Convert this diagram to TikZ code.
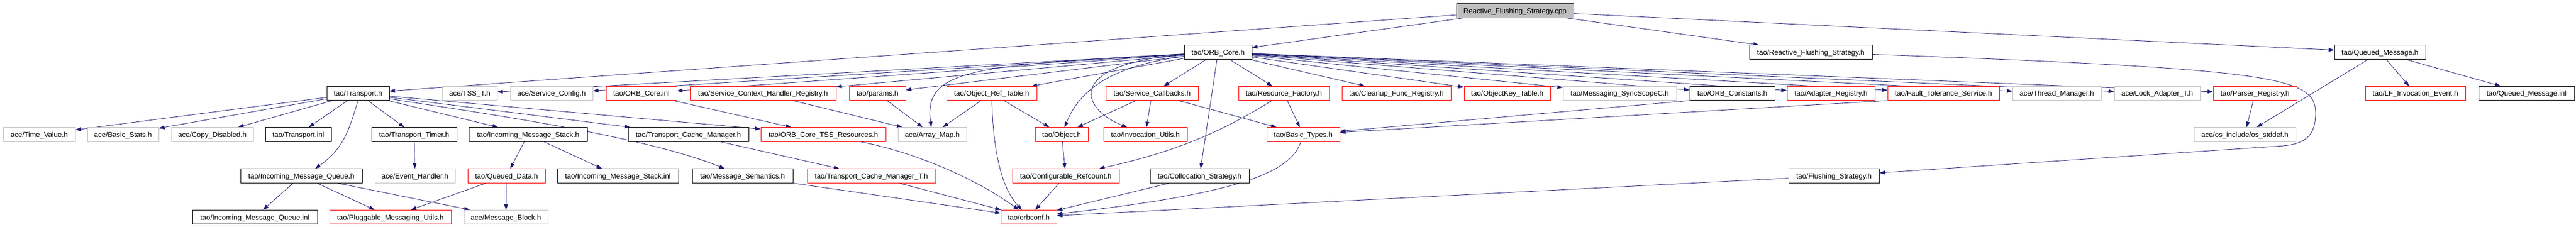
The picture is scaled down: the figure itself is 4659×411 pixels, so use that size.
\documentclass[tikz,border=0pt]{standalone}
\usepackage{fontspec}
\setmainfont{Liberation Sans}
\usetikzlibrary{arrows.meta}
\definecolor{edgeblue}{HTML}{191970}
\definecolor{lgray}{HTML}{BFBFBF}
\pgfdeclarelayer{background}
\pgfsetlayers{background,main}
\tikzset{
  box/.style={draw, fill=white, line width=0.8pt, minimum height=25.5pt, inner sep=0pt,
              text height=12pt, text depth=2pt, font=\fontsize{13}{15}\selectfont},
  docbox/.style={box, draw=black},
  redbox/.style={box, draw=red},
  graybox/.style={box, draw=lgray},
  rootbox/.style={box, draw=black, fill=lgray},
  edge/.style={draw=edgeblue, line width=0.8pt, -{Triangle[length=10pt,width=7pt]}}
}
\begin{document}
\begin{tikzpicture}[x=1pt,y=-1pt]
\useasboundingbox (0,0) rectangle (4659,411);
% row 0
\node[rootbox, minimum width=212pt] (cpp) at (2740,19.5) {Reactive\_Flushing\_Strategy.cpp};
% row 1
\node[docbox, minimum width=122pt] (orbcore) at (2203,94.5) {tao/ORB\_Core.h};
\node[docbox, minimum width=222pt] (rfsh) at (3275,94.5) {tao/Reactive\_Flushing\_Strategy.h};
\node[docbox, minimum width=165pt] (qmh) at (4304.5,94.5) {tao/Queued\_Message.h};
% row 2
\node[docbox, minimum width=113pt] (transport) at (647.5,169) {tao/Transport.h};
\node[graybox, minimum width=99pt] (tsst) at (849.5,169) {ace/TSS\_T.h};
\node[graybox, minimum width=149pt] (svcconf) at (997.5,169) {ace/Service\_Config.h};
\node[redbox, minimum width=128pt] (orbcoreinl) at (1160,169) {tao/ORB\_Core.inl};
\node[redbox, minimum width=264pt] (schr) at (1380,169) {tao/Service\_Context\_Handler\_Registry.h};
\node[redbox, minimum width=102pt] (params) at (1587,169) {tao/params.h};
\node[redbox, minimum width=163pt] (ort) at (1793.5,169) {tao/Object\_Ref\_Table.h};
\node[redbox, minimum width=167pt] (svccb) at (2083.5,169) {tao/Service\_Callbacks.h};
\node[redbox, minimum width=164pt] (resfac) at (2322,169) {tao/Resource\_Factory.h};
\node[redbox, minimum width=197pt] (cleanup) at (2525.5,169) {tao/Cleanup\_Func\_Registry.h};
\node[redbox, minimum width=156pt] (okt) at (2726,169) {tao/ObjectKey\_Table.h};
\node[graybox, minimum width=205pt] (syncscope) at (2929.5,169) {tao/Messaging\_SyncScopeC.h};
\node[docbox, minimum width=154pt] (orbconst) at (3133,169) {tao/ORB\_Constants.h};
\node[redbox, minimum width=159pt] (adapter) at (3311.5,169) {tao/Adapter\_Registry.h};
\node[redbox, minimum width=202pt] (ft) at (3515,169) {tao/Fault\_Tolerance\_Service.h};
\node[graybox, minimum width=160pt] (thrmgr) at (3720,169) {ace/Thread\_Manager.h};
\node[graybox, minimum width=155pt] (lockad) at (3901.5,169) {ace/Lock\_Adapter\_T.h};
\node[redbox, minimum width=151pt] (parser) at (4078.5,169) {tao/Parser\_Registry.h};
\node[redbox, minimum width=181pt] (lfie) at (4368.5,169) {tao/LF\_Invocation\_Event.h};
\node[docbox, minimum width=173pt] (qminl) at (4569.5,169) {tao/Queued\_Message.inl};
% row 3
\node[graybox, minimum width=130pt] (timeval) at (71,243.5) {ace/Time\_Value.h};
\node[graybox, minimum width=129pt] (bstats) at (222.5,243.5) {ace/Basic\_Stats.h};
\node[graybox, minimum width=148pt] (copydis) at (384,243.5) {ace/Copy\_Disabled.h};
\node[docbox, minimum width=119pt] (transinl) at (539.5,243.5) {tao/Transport.inl};
\node[docbox, minimum width=154pt] (ttimer) at (749,243.5) {tao/Transport\_Timer.h};
\node[docbox, minimum width=214pt] (ims) at (955,243.5) {tao/Incoming\_Message\_Stack.h};
\node[docbox, minimum width=218pt] (tcm) at (1245,243.5) {tao/Transport\_Cache\_Manager.h};
\node[redbox, minimum width=226pt] (tss) at (1489,243.5) {tao/ORB\_Core\_TSS\_Resources.h};
\node[graybox, minimum width=124pt] (amap) at (1686,243.5) {ace/Array\_Map.h};
\node[redbox, minimum width=96pt] (object) at (1920,243.5) {tao/Object.h};
\node[redbox, minimum width=151pt] (invutils) at (2071.5,243.5) {tao/Invocation\_Utils.h};
\node[redbox, minimum width=132pt] (btypes) at (2357,243.5) {tao/Basic\_Types.h};
\node[graybox, minimum width=184pt] (osstddef) at (4060,243.5) {ace/os\_include/os\_stddef.h};
% row 4
\node[docbox, minimum width=220pt] (imq) at (545,318.5) {tao/Incoming\_Message\_Queue.h};
\node[graybox, minimum width=145pt] (evh) at (750.5,318.5) {ace/Event\_Handler.h};
\node[redbox, minimum width=140pt] (qdata) at (916,318.5) {tao/Queued\_Data.h};
\node[docbox, minimum width=219pt] (imsinl) at (1117.5,318.5) {tao/Incoming\_Message\_Stack.inl};
\node[docbox, minimum width=182pt] (msgsem) at (1343,318.5) {tao/Message\_Semantics.h};
\node[redbox, minimum width=232pt] (tcmt) at (1576,318.5) {tao/Transport\_Cache\_Manager\_T.h};
\node[redbox, minimum width=193pt] (cfgref) at (1927.5,318.5) {tao/Configurable\_Refcount.h};
\node[docbox, minimum width=179pt] (colloc) at (2169.5,318.5) {tao/Collocation\_Strategy.h};
\node[docbox, minimum width=164pt] (flush) at (3317,318.5) {tao/Flushing\_Strategy.h};
% row 5
\node[docbox, minimum width=226pt] (imqinl) at (461,393) {tao/Incoming\_Message\_Queue.inl};
\node[redbox, minimum width=220pt] (pmu) at (706,393) {tao/Pluggable\_Messaging\_Utils.h};
\node[graybox, minimum width=152pt] (mblock) at (915,393) {ace/Message\_Block.h};
\node[redbox, minimum width=101pt] (orbconf) at (1860.5,393) {tao/orbconf.h};
% bend points
\coordinate (rB) at (4188,205);
\coordinate (rC) at (4130,264);

\begin{pgfonlayer}{background}
% from the .cpp
\draw[edge] (cpp) -- (transport);
\draw[edge] (cpp) -- (orbcore);
\draw[edge] (cpp) -- (rfsh);
\draw[edge] (cpp) -- (qmh);
% Transport.h
\draw[edge] (transport) -- (timeval);
\draw[edge] (transport) -- (bstats);
\draw[edge] (transport) -- (copydis);
\draw[edge] (transport) -- (transinl);
\draw[edge] (transport) -- (ttimer);
\draw[edge] (transport) -- (ims);
\draw[edge] (transport) -- (tcm);
\draw[edge] (transport) -- (tss);
\draw[edge] (transport.south) .. controls (630,240) and (620,270) .. ([xshift=25pt]imq.north);
\draw[edge] (transport) .. controls (800,195) and (1150,240) .. (msgsem);
\draw[edge] (ttimer) -- (evh);
% Incoming message queue / stack
\draw[edge] (imq) -- (imqinl);
\draw[edge] (imq) -- (pmu);
\draw[edge] (imq) -- (mblock);
\draw[edge] (ims) -- (qdata);
\draw[edge] (ims) -- (imsinl);
\draw[edge] (qdata) -- (pmu);
\draw[edge] (qdata) -- (mblock);
\draw[edge] (tcm) -- (tcmt);
\draw[edge] (tcmt) -- (orbconf);
\draw[edge] (msgsem) -- (orbconf);
\draw[edge] (tss) .. controls (1650,275) and (1760,320) .. (orbconf);
\draw[edge] (orbcoreinl) -- (tss);
% ORB_Core.h
\draw[edge] (orbcore) -- (tsst);
\draw[edge] (orbcore) -- (svcconf);
\draw[edge] (orbcore) -- (orbcoreinl);
\draw[edge] (orbcore) -- (schr);
\draw[edge] (orbcore) -- (params);
\draw[edge] (orbcore) -- (ort);
\draw[edge] (orbcore) .. controls (1760,118) and (1670,125) .. (amap);
\draw[edge] (orbcore) .. controls (2000,120) and (1950,170) .. (object);
\draw[edge] (orbcore) .. controls (1930,115) and (1950,195) .. (invutils);
\draw[edge] (orbcore) -- (svccb);
\draw[edge] (orbcore) -- (colloc);
\draw[edge] (orbcore) -- (resfac);
\draw[edge] (orbcore) -- (cleanup);
\draw[edge] (orbcore) -- (okt);
\draw[edge] (orbcore) -- (syncscope);
\draw[edge] (orbcore) -- (orbconst);
\draw[edge] (orbcore) -- (adapter);
\draw[edge] (orbcore) -- (ft);
\draw[edge] (orbcore) -- (thrmgr);
\draw[edge] (orbcore) -- (lockad);
\draw[edge] (orbcore) -- (parser);
% second level
\draw[edge] (schr) -- (amap);
\draw[edge] (params) -- (amap);
\draw[edge] (ort) -- (amap);
\draw[edge] (ort) -- (object);
\draw[edge] (ort) .. controls (1797,300) and (1820,350) .. (orbconf);
\draw[edge] (object) -- (cfgref);
\draw[edge] (cfgref) -- (orbconf);
\draw[edge] (svccb) -- (object);
\draw[edge] (svccb) -- (invutils);
\draw[edge] (svccb) -- (btypes);
\draw[edge] (resfac) .. controls (2230,225) and (2150,270) .. (cfgref);
\draw[edge] (resfac) -- (btypes);
\draw[edge] (colloc) -- (orbconf);
\draw[edge] (btypes) .. controls (2335,310) and (2250,350) .. (orbconf);
\draw[edge] (orbconst.south west) -- (btypes);
\draw[edge] (ft.south west) -- (btypes);
\draw[edge] (parser) -- (osstddef);
% Reactive_Flushing_Strategy.h
\draw[edge] (rfsh) .. controls (4120,125) and (4188,140) .. (rB)
   .. controls (4188,245) and (4170,260) .. (rC) -- (flush);
\draw[edge] (flush) -- (orbconf);
% Queued_Message.h
\draw[edge] (qmh) -- (osstddef);
\draw[edge] (qmh) -- (lfie);
\draw[edge] (qmh) -- (qminl);
\end{pgfonlayer}
\end{tikzpicture}
\end{document}
